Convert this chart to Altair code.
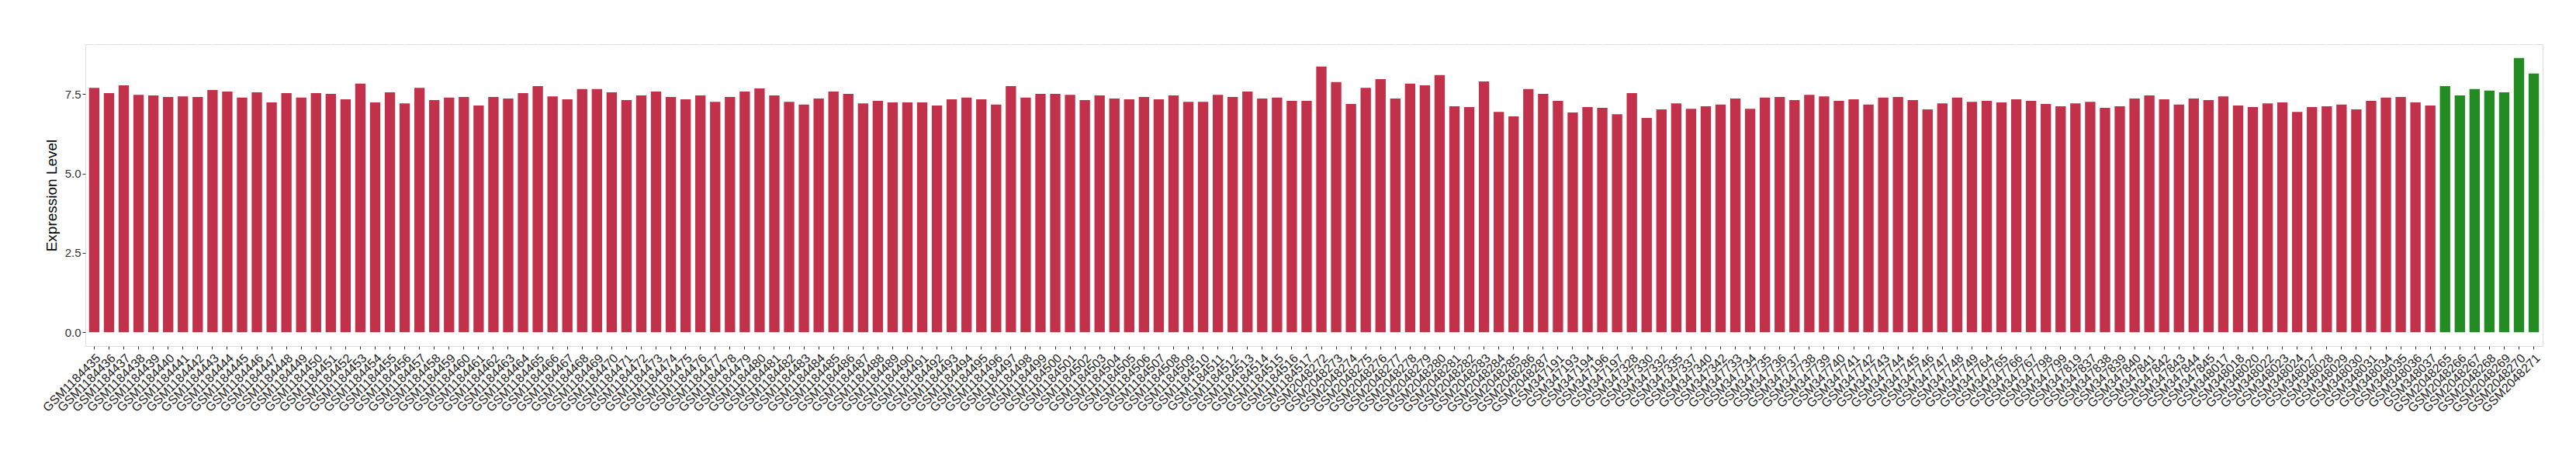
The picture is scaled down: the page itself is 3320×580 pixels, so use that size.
import altair as alt
import pandas as pd

# ---- data ----
red_samples = [
    "GSM1184435", "GSM1184436", "GSM1184437", "GSM1184438", "GSM1184439", "GSM1184440", "GSM1184441", "GSM1184442",
    "GSM1184443", "GSM1184444", "GSM1184445", "GSM1184446", "GSM1184447", "GSM1184448", "GSM1184449", "GSM1184450",
    "GSM1184451", "GSM1184452", "GSM1184453", "GSM1184454", "GSM1184455", "GSM1184456", "GSM1184457", "GSM1184458",
    "GSM1184459", "GSM1184460", "GSM1184461", "GSM1184462", "GSM1184463", "GSM1184464", "GSM1184465", "GSM1184466",
    "GSM1184467", "GSM1184468", "GSM1184469", "GSM1184470", "GSM1184471", "GSM1184472", "GSM1184473", "GSM1184474",
    "GSM1184475", "GSM1184476", "GSM1184477", "GSM1184478", "GSM1184479", "GSM1184480", "GSM1184481", "GSM1184482",
    "GSM1184483", "GSM1184484", "GSM1184485", "GSM1184486", "GSM1184487", "GSM1184488", "GSM1184489", "GSM1184490",
    "GSM1184491", "GSM1184492", "GSM1184493", "GSM1184494", "GSM1184495", "GSM1184496", "GSM1184497", "GSM1184498",
    "GSM1184499", "GSM1184500", "GSM1184501", "GSM1184502", "GSM1184503", "GSM1184504", "GSM1184505", "GSM1184506",
    "GSM1184507", "GSM1184508", "GSM1184509", "GSM1184510", "GSM1184511", "GSM1184512", "GSM1184513", "GSM1184514",
    "GSM1184515", "GSM1184516", "GSM1184517",
    "GSM2048272", "GSM2048273", "GSM2048274", "GSM2048275", "GSM2048276", "GSM2048277", "GSM2048278", "GSM2048279",
    "GSM2048280", "GSM2048281", "GSM2048282", "GSM2048283", "GSM2048284", "GSM2048285", "GSM2048286", "GSM2048287",
    "GSM347191", "GSM347193", "GSM347194", "GSM347196", "GSM347197",
    "GSM347328", "GSM347330", "GSM347332", "GSM347335", "GSM347337", "GSM347340", "GSM347342",
    "GSM347733", "GSM347734", "GSM347735", "GSM347736", "GSM347737", "GSM347738", "GSM347739", "GSM347740",
    "GSM347741", "GSM347742", "GSM347743", "GSM347744", "GSM347745", "GSM347746", "GSM347747", "GSM347748",
    "GSM347749",
    "GSM347764", "GSM347765", "GSM347766", "GSM347767",
    "GSM347798", "GSM347799", "GSM347819",
    "GSM347837", "GSM347838", "GSM347839", "GSM347840", "GSM347841", "GSM347842", "GSM347843", "GSM347844",
    "GSM347845",
    "GSM348017", "GSM348018", "GSM348020", "GSM348022", "GSM348023", "GSM348024", "GSM348027", "GSM348028",
    "GSM348029", "GSM348030", "GSM348031", "GSM348034", "GSM348035", "GSM348036", "GSM348037",
]
red_values = [
    7.70, 7.53, 7.78, 7.48, 7.46, 7.41, 7.43, 7.41, 7.63, 7.58, 7.39, 7.56, 7.24, 7.53, 7.39, 7.53,
    7.51, 7.34, 7.83, 7.24, 7.56, 7.21, 7.70, 7.31, 7.39, 7.41, 7.14, 7.41, 7.36, 7.53, 7.75, 7.43,
    7.34, 7.66, 7.66, 7.56, 7.31, 7.46, 7.58, 7.41, 7.34, 7.46, 7.26, 7.41, 7.58, 7.68, 7.46, 7.26,
    7.17, 7.36, 7.58, 7.51, 7.21, 7.29, 7.24, 7.24, 7.24, 7.14, 7.34, 7.39, 7.34, 7.17, 7.75, 7.39,
    7.51, 7.51, 7.48, 7.31, 7.46, 7.36, 7.34, 7.41, 7.34, 7.46, 7.26, 7.26, 7.48, 7.41, 7.58, 7.36,
    7.39, 7.29, 7.29,
    8.37, 7.88, 7.19, 7.70, 7.97, 7.36, 7.83, 7.78, 8.10, 7.12, 7.09, 7.90, 6.94, 6.80, 7.66, 7.51,
    7.29, 6.92, 7.09, 7.07, 6.87,
    7.53, 6.75, 7.02, 7.21, 7.04, 7.12, 7.17,
    7.36, 7.04, 7.39, 7.41, 7.31, 7.48, 7.43, 7.29, 7.34, 7.17, 7.39, 7.41, 7.31, 7.02, 7.21, 7.39,
    7.26,
    7.29, 7.24, 7.34, 7.29,
    7.19, 7.12, 7.21,
    7.26, 7.07, 7.12, 7.36, 7.46, 7.34, 7.17, 7.36, 7.31,
    7.43, 7.14, 7.09, 7.21, 7.24, 6.94, 7.09, 7.12, 7.17, 7.02, 7.29, 7.39, 7.41, 7.24, 7.14,
]
green_samples = ["GSM2048265", "GSM2048266", "GSM2048267", "GSM2048268", "GSM2048269", "GSM2048270", "GSM2048271"]
green_values = [7.75, 7.46, 7.66, 7.61, 7.56, 8.64, 8.15]

groups = ["red", "green"]
group_colors = ["#C2314A", "#228B22"]
y_tick_values = [0, 1.25, 2.5, 3.75, 5.0, 6.25, 7.5, 8.75]

df = pd.DataFrame({
    "sample": red_samples + green_samples,
    "value": red_values + green_values,
    "group": [groups[0]] * len(red_samples) + [groups[1]] * len(green_samples),
})

vmax = max(red_values + green_values)
ydomain = [-0.05 * vmax, vmax * 1.05]

major = "abs(datum.value % 2.5) < 1e-6"

chart = alt.Chart(df).mark_bar().encode(
    x=alt.X(
        "sample:N",
        sort=None,
        scale=alt.Scale(paddingInner=0.3, paddingOuter=0.25),
        axis=alt.Axis(
            title=None,
            labelAngle=-45,
            labelFontSize=16,
            labelColor="#1A1A1A",
            labelOverlap=False,
            labelPadding=3,
            grid=True,
            gridColor="#FFFFFF",
            gridWidth=2,
            ticks=True,
            tickColor="#333333",
            tickSize=4,
            domain=False,
        ),
    ),
    y=alt.Y(
        "value:Q",
        scale=alt.Scale(domain=ydomain, nice=False, zero=False),
        axis=alt.Axis(
            title="Expression Level",
            titleFontSize=19,
            titleFontWeight="normal",
            titleColor="#000000",
            titlePadding=7,
            values=y_tick_values,
            labelExpr=f"{major} ? format(datum.value, '.1f') : ''",
            labelFontSize=15,
            labelColor="#333333",
            labelPadding=2,
            grid=True,
            gridColor="#FFFFFF",
            gridWidth={"condition": {"test": major, "value": 2}, "value": 1},
            tickColor="#333333",
            tickSize=4,
            tickOpacity={"condition": {"test": major, "value": 1}, "value": 0},
            domain=False,
        ),
    ),
    y2=alt.datum(0),
    color=alt.Color("group:N", scale=alt.Scale(domain=groups, range=group_colors), legend=None),
).properties(
    width=3167,
    height=389,
    autosize=alt.AutoSizeParams(type="none"),
    padding={"left": 102, "top": 49, "right": 30, "bottom": 120},
).configure_view(
    fill="#EBEBEB",
    stroke=None,
).configure(
    font="Liberation Sans",
)

chart.save("out.html", embed_options={"renderer": "svg", "actions": False})
